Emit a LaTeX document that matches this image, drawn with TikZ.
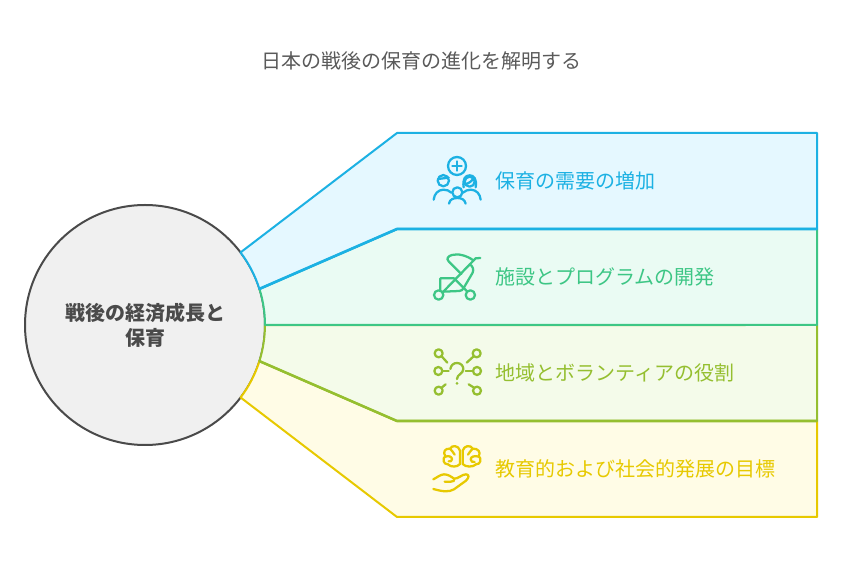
\documentclass[tikz,border=0pt]{standalone}
\usepackage{fontspec}
\setmainfont{Noto Sans CJK JP}
\definecolor{cblue}{HTML}{1CB1E3}
\definecolor{fblue}{HTML}{E5F8FF}
\definecolor{cgreen}{HTML}{3DC685}
\definecolor{fgreen}{HTML}{EAFBF3}
\definecolor{colive}{HTML}{95BF30}
\definecolor{folive}{HTML}{F4FBEA}
\definecolor{cyell}{HTML}{E7C900}
\definecolor{fyell}{HTML}{FFFCE6}
\definecolor{ink}{HTML}{4A4A4A}
\definecolor{titleink}{HTML}{5A5A5A}
\tikzset{
  band/.style={line width=1.5pt,line join=round},
  lbl/.style={anchor=west,inner sep=0pt,font=\fontsize{15pt}{15pt}\selectfont},
  icon/.style={line width=1.7pt,line cap=round,line join=round,fill=none}
}
\begin{document}
\begin{tikzpicture}[x=0.75pt,y=-0.75pt]
\useasboundingbox[fill=white] (0,0) rectangle (843,566);

% central disc
\draw[draw=ink,line width=1.5pt,fill=black!6] (145,325) circle[radius=120];

% bands, lowest first so each upper edge stays on top
\draw[band,draw=cyell,fill=fyell] (240.6,397.5) arc[start angle=37.2,end angle=17.5,radius=120]
  -- (397,421) -- (817,421) -- (817,517) -- (397,517) -- cycle;
\draw[band,draw=colive,fill=folive] (259.4,361.1) arc[start angle=17.5,end angle=0,radius=120]
  -- (817,325) -- (817,421) -- (397,421) -- cycle;
\draw[draw=colive,line width=1.9pt,line join=round] (259.4,361.1) -- (397,421) -- (817,421);
\draw[band,draw=cgreen,fill=fgreen] (265,325) arc[start angle=0,end angle=-17.5,radius=120]
  -- (397,229) -- (817,229) -- (817,325) -- cycle;
\draw[band,draw=cblue,fill=fblue] (259.4,288.9) arc[start angle=-17.5,end angle=-37.2,radius=120]
  -- (397,133) -- (817,133) -- (817,229) -- (397,229) -- cycle;
\draw[draw=cblue,line width=2pt,line join=round] (259.4,288.9) -- (397,229) -- (817,229);

% texts
\node[inner sep=0pt,text=titleink,font=\fontsize{15pt}{15pt}\selectfont] (title) at (421,60.7) {日本の戦後の保育の進化を解明する};
\node[inner sep=0pt,text=ink,font=\fontsize{15pt}{15pt}\selectfont\bfseries] (hubtop) at (145,312.7) {戦後の経済成長と};
\node[inner sep=0pt,text=ink,font=\fontsize{15pt}{15pt}\selectfont\bfseries] (hubbot) at (145,337.7) {保育};
\node[lbl,text=cblue] (l1) at (495,180.6) {保育の需要の増加};
\node[lbl,text=cgreen] (l2) at (495,276.6) {施設とプログラムの開発};
\node[lbl,text=colive] (l3) at (495,372.6) {地域とボランティアの役割};
\node[lbl,text=cyell] (l4) at (495,468.6) {教育的および社会的発展の目標};

% people with a plus sign
\begin{scope}[shift={(428,155)},x=0.25pt,y=-0.25pt,icon,draw=cblue]
  \draw (87,33) circle[radius=27];
  \draw (87,19) -- (87,47) (73,33) -- (101,33);
  \draw (46,77) circle[radius=17];
  \draw (30,72) -- (62,68);
  \draw (125,80) circle[radius=15];
  \draw (110,88) .. controls (122,86) and (132,78) .. (136,70);
  \draw (107,97) .. controls (103,72) and (112,61) .. (125,61) .. controls (138,61) and (147,72) .. (143,97);
  \draw (88,112) circle[radius=15];
  \draw (63,146) .. controls (65,134) and (75,129) .. (88,129) .. controls (101,129) and (110,134) .. (113,146);
  \draw (17,134) .. controls (19,116) and (30,105) .. (46,104) .. controls (56,104) and (64,107) .. (70,113);
  \draw (158,134) .. controls (156,116) and (145,105) .. (129,104) .. controls (120,104) and (112,107) .. (105,113);
\end{scope}

% stroller
\begin{scope}[shift={(428,250)},x=0.25pt,y=-0.25pt,icon,draw=cgreen]
  \draw (32,135) circle[radius=14];
  \draw (127,135) circle[radius=14];
  \draw (157,24) -- (143,25) -- (45,126);
  \draw (136,31) .. controls (115,16) and (90,10) .. (72,15) .. controls (60,18) and (54,26) .. (62,34) -- (100,72);
  \draw (37,122) -- (37,85) -- (78,85) -- (117,124);
  \draw (45,125) -- (94,123) .. controls (100,122) and (104,120) .. (107,114) -- (134,68) .. controls (138,58) and (134,48) .. (125,43);
\end{scope}

% question mark with surrounding nodes
\begin{scope}[shift={(428,345)},x=0.25pt,y=-0.25pt,icon,draw=colive]
  \foreach \cx/\cy in {32/25,146/25,31/78,147/78,32/137,147/137}
    \draw (\cx,\cy) circle[radius=12];
  \draw (41,34) -- (58,53);
  \draw (137,34) -- (116,53);
  \draw (43,78) -- (62,78);
  \draw (135,78) -- (113,78);
  \draw (41,128) -- (53,118);
  \draw (138,128) -- (122,118);
  \draw (67,72) .. controls (69,60) and (77,54) .. (87,54) .. controls (99,54) and (106,63) .. (106,72) .. controls (106,86) and (87,88) .. (87,102);
  \fill[colive] (87,115) circle[radius=4.5];
\end{scope}

% brain above an open hand
\begin{scope}[shift={(428,440)},x=0.25pt,y=-0.25pt,icon,draw=cyell]
  \draw (96,32) .. controls (92,16) and (72,14) .. (66,26) .. controls (50,24) and (44,38) .. (52,48) .. controls (42,56) and (46,74) .. (60,73) .. controls (68,82) and (88,82) .. (96,72) -- cycle;
  \draw (104,32) .. controls (108,16) and (128,14) .. (134,26) .. controls (150,24) and (160,38) .. (152,48) .. controls (162,56) and (158,74) .. (144,73) .. controls (136,82) and (112,82) .. (104,72) -- cycle;
  \draw (66,26) .. controls (70,34) and (78,36) .. (80,44);
  \draw (52,50) .. controls (62,46) and (72,50) .. (72,58) .. controls (72,64) and (66,66) .. (62,64);
  \draw (134,26) .. controls (130,34) and (122,36) .. (120,44);
  \draw (152,50) .. controls (140,46) and (128,50) .. (128,58) .. controls (128,64) and (134,68) .. (140,66);
  \draw (16,118) .. controls (28,112) and (36,104) .. (48,103) .. controls (60,103) and (70,110) .. (78,116) .. controls (88,118) and (104,102) .. (114,103) .. controls (124,104) and (124,112) .. (114,122) -- (78,148) .. controls (62,157) and (45,155) .. (16,147);
  \draw (78,116) .. controls (82,122) and (76,125) .. (68,125) -- (50,125);
\end{scope}
\end{tikzpicture}
\end{document}
